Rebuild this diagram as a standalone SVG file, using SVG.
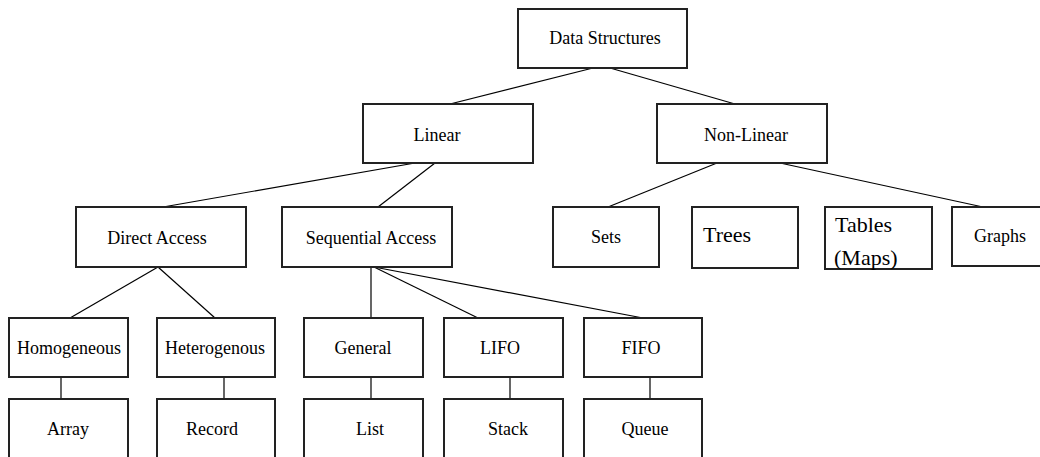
<svg xmlns="http://www.w3.org/2000/svg" width="1040" height="457" viewBox="0 0 1040 457">
<style>
.box{fill:#fff;stroke:#222;stroke-width:2}
.lbl{font-family:"Liberation Serif",serif;font-size:18px;fill:#000;text-anchor:middle}
.big{font-family:"Liberation Serif",serif;font-size:22px;fill:#000}
.ln{stroke:#000;stroke-width:1.2;fill:none}
</style>
<rect width="1040" height="457" fill="#fff"/>
<g id="connectors">
<line class="ln" x1="593" y1="68" x2="450" y2="104"/>
<line class="ln" x1="610" y1="68" x2="735" y2="104"/>
<line class="ln" x1="415" y1="163" x2="163" y2="207"/>
<line class="ln" x1="435" y1="163" x2="378" y2="207"/>
<line class="ln" x1="717" y1="163" x2="608" y2="207"/>
<line class="ln" x1="780" y1="163" x2="983" y2="207"/>
<line class="ln" x1="158" y1="267" x2="70" y2="318"/>
<line class="ln" x1="158" y1="267" x2="215" y2="318"/>
<line class="ln" x1="371" y1="267" x2="371" y2="318"/>
<line class="ln" x1="374" y1="267" x2="478" y2="318"/>
<line class="ln" x1="374" y1="267" x2="643" y2="318"/>
<line class="ln" x1="61" y1="377" x2="61" y2="399"/>
<line class="ln" x1="224" y1="377" x2="224" y2="399"/>
<line class="ln" x1="371" y1="377" x2="371" y2="399"/>
<line class="ln" x1="510" y1="377" x2="510" y2="399"/>
<line class="ln" x1="650" y1="377" x2="650" y2="399"/>
</g>
<g id="n-data-structures"><rect class="box" x="518" y="9" width="169" height="59"/><text class="lbl" x="605" y="44">Data Structures</text></g>
<g id="n-linear"><rect class="box" x="363" y="104" width="170" height="59"/><text class="lbl" x="437" y="141">Linear</text></g>
<g id="n-non-linear"><rect class="box" x="657" y="104" width="170" height="59"/><text class="lbl" x="746" y="141">Non-Linear</text></g>
<g id="n-direct-access"><rect class="box" x="76" y="207" width="170" height="60"/><text class="lbl" x="157" y="244">Direct Access</text></g>
<g id="n-sequential-access"><rect class="box" x="282" y="207" width="170" height="60"/><text class="lbl" x="371" y="244">Sequential Access</text></g>
<g id="n-sets"><rect class="box" x="553" y="207" width="106" height="60"/><text class="lbl" x="606" y="243">Sets</text></g>
<g id="n-trees"><rect class="box" x="692" y="207" width="106" height="61"/><text class="big" x="703" y="242">Trees</text></g>
<g id="n-tables"><rect class="box" x="825" y="207" width="107" height="62"/><text class="big" x="835" y="232">Tables</text><text class="big" x="834" y="265">(Maps)</text></g>
<g id="n-graphs"><rect class="box" x="952" y="207" width="100" height="59"/><text class="lbl" x="1000" y="242">Graphs</text></g>
<g id="n-homogeneous"><rect class="box" x="9" y="318" width="119" height="59"/><text class="lbl" x="69" y="354">Homogeneous</text></g>
<g id="n-heterogenous"><rect class="box" x="157" y="318" width="118" height="59"/><text class="lbl" x="215" y="354">Heterogenous</text></g>
<g id="n-general"><rect class="box" x="304" y="318" width="119" height="59"/><text class="lbl" x="363" y="354">General</text></g>
<g id="n-lifo"><rect class="box" x="444" y="318" width="119" height="59"/><text class="lbl" x="500" y="354">LIFO</text></g>
<g id="n-fifo"><rect class="box" x="584" y="318" width="118" height="59"/><text class="lbl" x="641" y="354">FIFO</text></g>
<g id="n-array"><rect class="box" x="9" y="399" width="119" height="80"/><text class="lbl" x="68" y="435">Array</text></g>
<g id="n-record"><rect class="box" x="157" y="399" width="118" height="80"/><text class="lbl" x="212" y="435">Record</text></g>
<g id="n-list"><rect class="box" x="304" y="399" width="119" height="80"/><text class="lbl" x="370" y="435">List</text></g>
<g id="n-stack"><rect class="box" x="444" y="399" width="119" height="80"/><text class="lbl" x="508" y="435">Stack</text></g>
<g id="n-queue"><rect class="box" x="584" y="399" width="118" height="80"/><text class="lbl" x="645" y="435">Queue</text></g>
</svg>
